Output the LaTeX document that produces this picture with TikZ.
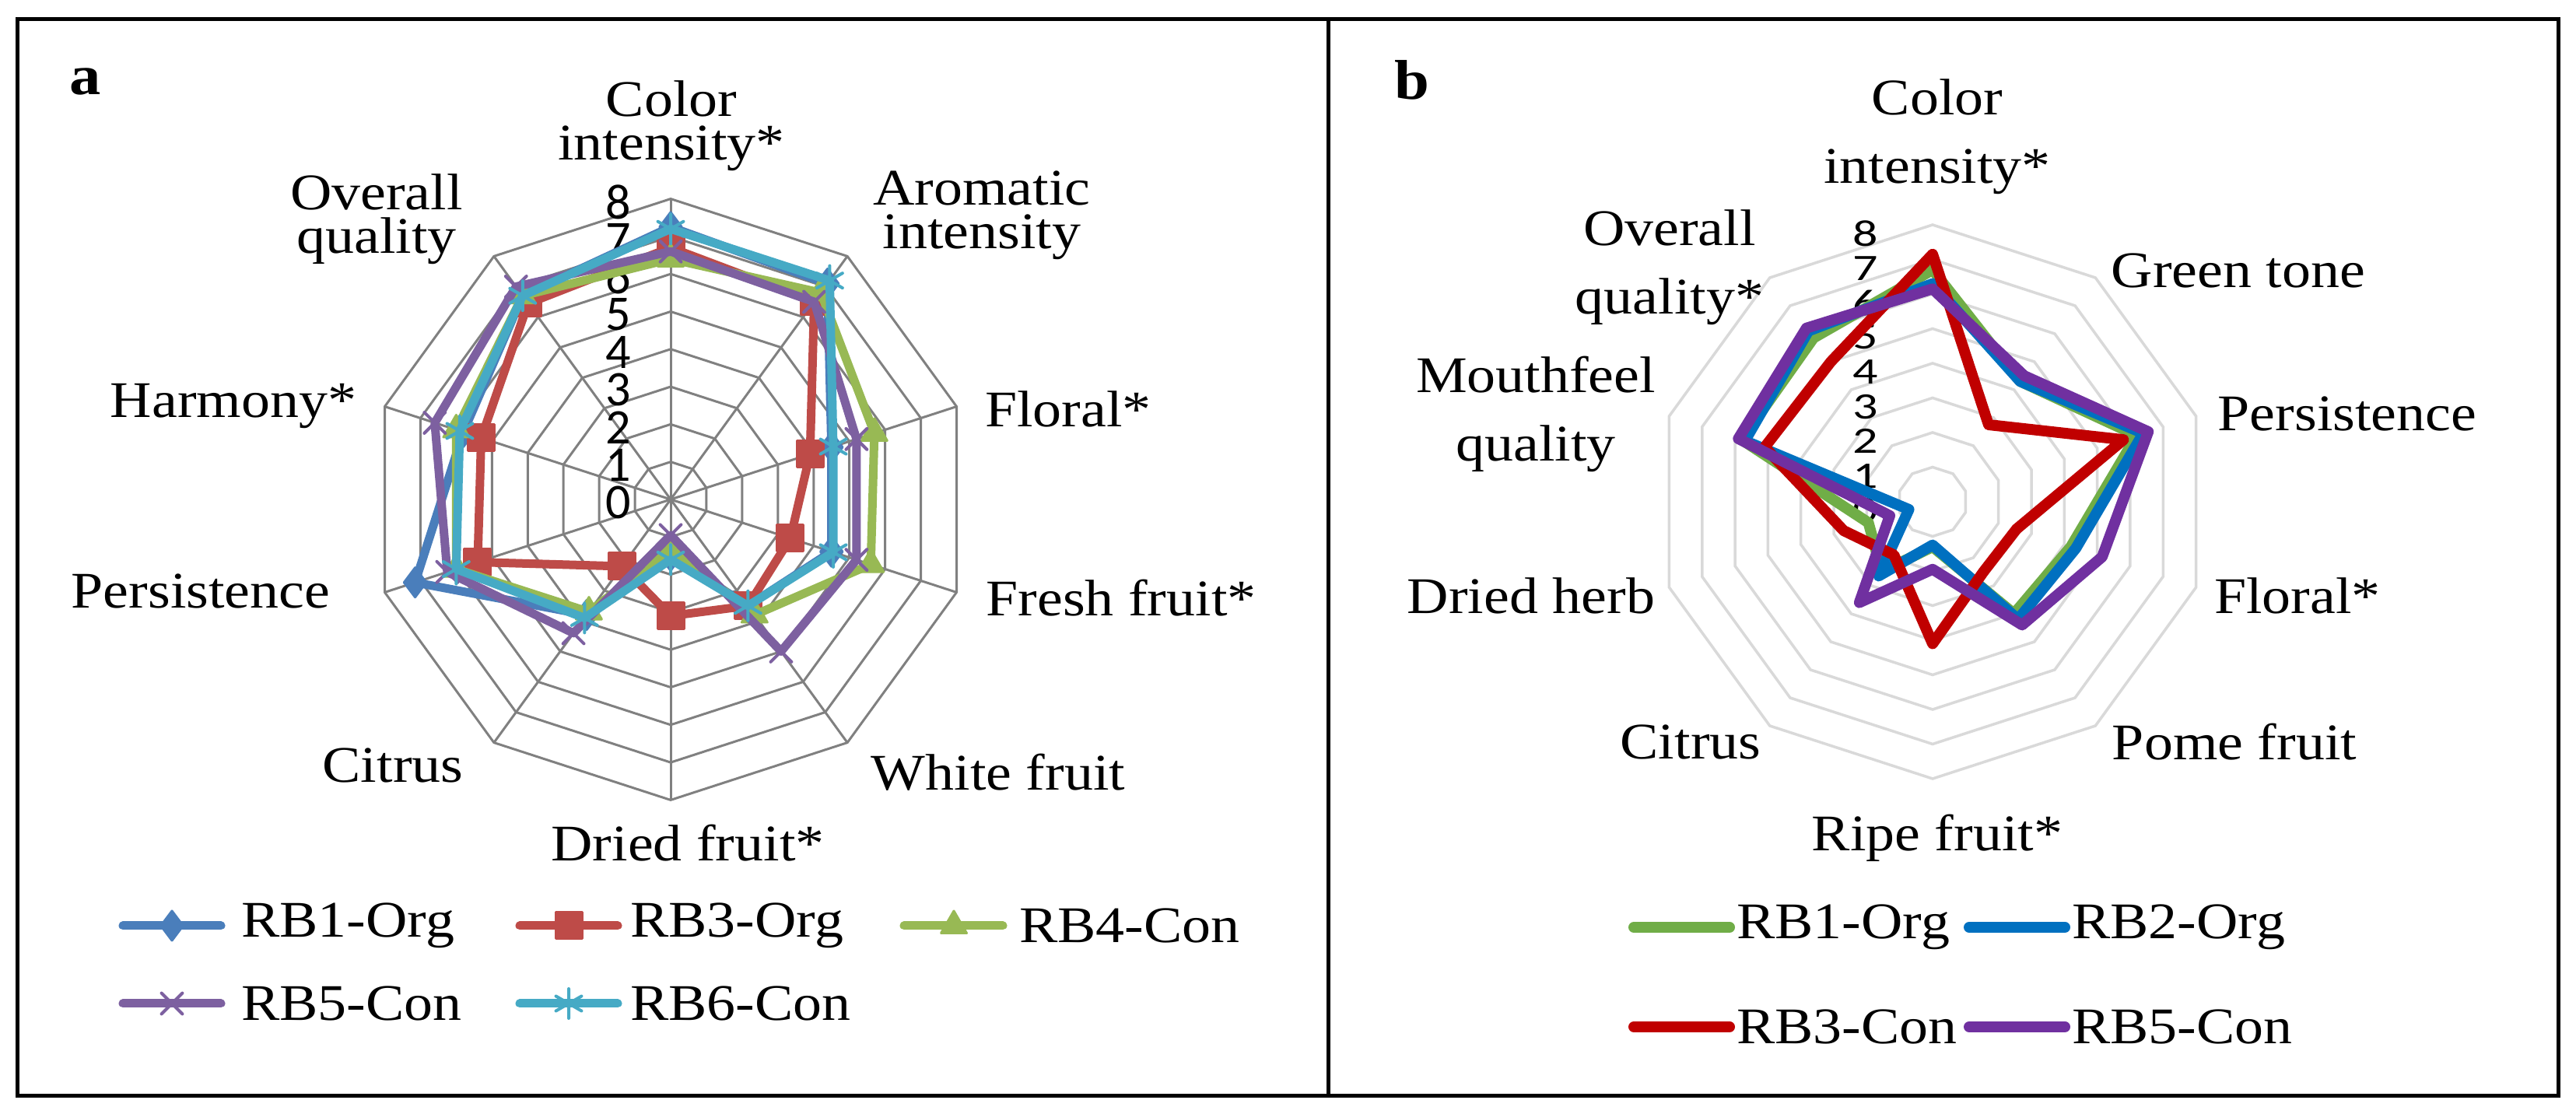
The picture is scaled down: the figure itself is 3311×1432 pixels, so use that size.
\documentclass[tikz,border=0pt]{standalone}
\usepackage{fontspec}
\usetikzlibrary{plotmarks}
\setmainfont{Liberation Serif}[FakeStretch=1.12]
\newfontfamily\numf{Carlito}
\begin{document}
\begin{tikzpicture}[x=1pt,y=1pt,
  frame/.style={draw=black,line width=5pt},
  lbl/.style={font=\fontsize{66}{56}\selectfont,align=center,inner sep=0pt},
  lblb/.style={font=\fontsize{66}{88}\selectfont,align=center,inner sep=0pt},
  tick/.style={font=\numf\fontsize{64}{64}\selectfont,inner sep=0pt},
  tickb/.style={font=\numf\fontsize{64}{64}\selectfont,inner sep=0pt,yscale=0.75},
  grida/.style={draw=black!50,line width=3pt},
  gridb/.style={draw=black!15,line width=3.5pt},
  ser/.style={line width=11pt,line join=round,line cap=round},
  sb/.style={line width=14pt,line join=round,line cap=round},
  mA/.style={mark=diamond*,mark size=19pt,mark options={solid,fill=cA,draw=cA,line width=3pt}},
  mB/.style={mark=square*,mark size=17pt,mark options={solid,fill=cB,draw=cB,line width=3pt}},
  mC/.style={mark=triangle*,mark size=19pt,mark options={solid,fill=cC,draw=cC,line width=3pt}},
  mD/.style={mark=x,mark size=19pt,mark options={solid,draw=cD,line width=4pt}},
  mE/.style={mark=asterisk,mark size=19pt,mark options={solid,draw=cE,line width=4pt}},
]
\definecolor{cA}{HTML}{4A7EBB}\definecolor{cB}{HTML}{BE4B48}\definecolor{cC}{HTML}{98B954}
\definecolor{cD}{HTML}{7D60A0}\definecolor{cE}{HTML}{46AAC5}
\definecolor{dA}{HTML}{70AD47}\definecolor{dB}{HTML}{0070C0}\definecolor{dC}{HTML}{C00000}\definecolor{dD}{HTML}{7030A0}
\useasboundingbox (0,0) rectangle (3311,1432);
\fill[white] (0,0) rectangle (3311,1432);
% frames
\draw[frame] (22,23) rectangle (1707,1407);
\draw[frame] (1707,23) rectangle (3288,1407);
\node[font=\bfseries\fontsize{72}{72}\selectfont] (la) at (110,1327) {a};
\node[font=\bfseries\fontsize{72}{72}\selectfont] (lb) at (1815,1329) {b};

% ===== panel a =====
\begin{scope}[shift={(862pt,790pt)},x=48.3pt,y=48.3pt]
\foreach \k in {1,...,8}
  \draw[grida] (90:\k)--(54:\k)--(18:\k)--(-18:\k)--(-54:\k)--(-90:\k)--(-126:\k)--(-162:\k)--(162:\k)--(126:\k)--cycle;
\foreach \a in {90,54,18,-18,-54,-90,-126,-162,162,126}
  \draw[grida] (0,0)--(\a:8);
\foreach \k in {0,...,8}
  \node[tick] (ta\k) at (-1.39,\k-0.08) {\k};
\draw[ser,cA,mA] plot coordinates {(90:7.25)(54:7.1)(18:4.5)(-18:4.5)(-54:3.5)(-90:1.5)(-126:3.8)(-162:7.15)(162:5.8)(126:6.7)} -- cycle;
\draw[ser,cB,mB] plot coordinates {(90:6.7)(54:6.5)(18:3.9)(-18:3.35)(-54:3.5)(-90:3.1)(-126:2.2)(-162:5.4)(162:5.3)(126:6.45)} -- cycle;
\draw[ser,cC,mC] plot coordinates {(90:6.4)(54:6.8)(18:5.7)(-18:5.6)(-54:3.8)(-90:1.3)(-126:3.7)(-162:6.0)(162:6.0)(126:6.7)} -- cycle;
\draw[ser,cD,mD] plot coordinates {(90:6.6)(54:6.5)(18:5.2)(-18:5.2)(-54:5.0)(-90:0.95)(-126:4.4)(-162:6.25)(162:6.6)(126:7.0)} -- cycle;
\draw[ser,cE,mE] plot coordinates {(90:7.2)(54:7.2)(18:4.55)(-18:4.55)(-54:3.5)(-90:1.6)(-126:3.9)(-162:6.0)(162:5.9)(126:6.7)} -- cycle;
\end{scope}
\node[lbl] (a0) at (863,1270) {Color\\intensity*};
\node[lbl] (a1) at (1262,1155) {Aromatic\\intensity};
\node[lbl] (a2) at (1373,906) {Floral*};
\node[lbl] (a3) at (1441,663) {Fresh fruit*};
\node[lbl] (a4) at (1283,439) {White fruit};
\node[lbl] (a5) at (884,348) {Dried fruit*};
\node[lbl] (a6) at (505,448) {Citrus};
\node[lbl] (a7) at (258,672) {Persistence};
\node[lbl] (a8) at (300,910) {Harmony*};
\node[lbl] (a9) at (484,1150) {Overall\\quality};
% legend a
\draw[ser,cA,mA,mark indices={2}] plot coordinates {(158,242)(221,242)(284,242)};
\node[lbl,anchor=west] (ga1) at (310,242) {RB1-Org};
\draw[ser,cB,mB,mark indices={2}] plot coordinates {(668,242)(731,242)(794,242)};
\node[lbl,anchor=west] (ga3) at (810,242) {RB3-Org};
\draw[ser,cC,mC,mark indices={2}] plot coordinates {(1162,242)(1226,242)(1289,242)};
\node[lbl,anchor=west] (ga4) at (1310,242) {RB4-Con};
\draw[ser,cD,mD,mark indices={2}] plot coordinates {(158,142)(221,142)(284,142)};
\node[lbl,anchor=west] (ga5) at (310,142) {RB5-Con};
\draw[ser,cE,mE,mark indices={2}] plot coordinates {(668,142)(731,142)(794,142)};
\node[lbl,anchor=west] (ga6) at (810,142) {RB6-Con};

% ===== panel b =====
\begin{scope}[shift={(2484pt,787pt)},x=44.5pt,y=44.5pt]
\foreach \k in {1,...,8}
  \draw[gridb] (90:\k)--(54:\k)--(18:\k)--(-18:\k)--(-54:\k)--(-90:\k)--(-126:\k)--(-162:\k)--(162:\k)--(126:\k)--cycle;
\foreach \k in {0,...,8}
  \node[tickb] (tb\k) at (-1.93,\k-0.25) {\k};
\draw[sb,dA] (90:6.7)--(54:4.3)--(18:6.2)--(-18:4.2)--(-54:4.0)--(-90:1.3)--(-126:2.5)--(-162:1.95)--(162:5.8)--(126:5.85)--cycle;
\draw[sb,dB] (90:6.3)--(54:4.3)--(18:6.4)--(-18:4.35)--(-54:4.2)--(-90:1.25)--(-126:2.65)--(-162:0.72)--(162:5.7)--(126:6.1)--cycle;
\draw[sb,dC] (90:7.15)--(54:2.75)--(18:5.8)--(-18:2.55)--(-54:2.5)--(-90:4.1)--(-126:1.9)--(-162:2.7)--(162:5.1)--(126:5.0)--cycle;
\draw[sb,dD] (90:6.15)--(54:4.5)--(18:6.55)--(-18:5.15)--(-54:4.4)--(-90:1.95)--(-126:3.6)--(-162:1.3)--(162:5.9)--(126:6.2)--cycle;
\end{scope}
\node[lblb] (b0) at (2490,1256) {Color\\intensity*};
\node[lblb] (b1) at (2877,1084) {Green tone};
\node[lblb] (b2) at (3017,900) {Persistence};
\node[lblb] (b3) at (2953,666) {Floral*};
\node[lblb] (b4) at (2872,478) {Pome fruit};
\node[lblb] (b5) at (2490,355) {Ripe fruit*};
\node[lblb] (b6) at (2173,478) {Citrus};
\node[lblb] (b7) at (1968,666) {Dried herb};
\node[lblb] (b8) at (1974,900) {Mouthfeel\\quality};
\node[lblb] (b9) at (2146,1088) {Overall\\quality*};
% legend b
\draw[sb,dA] (2100,240) coordinate (l1a) -- (2223,240) coordinate (l1b);
\node[lbl,anchor=west] (gb1) at (2232,240) {RB1-Org};
\draw[sb,dB] (2531,240) coordinate (l2a) -- (2654,240) coordinate (l2b);
\node[lbl,anchor=west] (gb2) at (2663,240) {RB2-Org};
\draw[sb,dC] (2100,112) coordinate (l3a) -- (2223,112) coordinate (l3b);
\node[lbl,anchor=west] (gb3) at (2232,112) {RB3-Con};
\draw[sb,dD] (2531,112) coordinate (l4a) -- (2654,112) coordinate (l4b);
\node[lbl,anchor=west] (gb4) at (2663,112) {RB5-Con};
\end{tikzpicture}
\end{document}
